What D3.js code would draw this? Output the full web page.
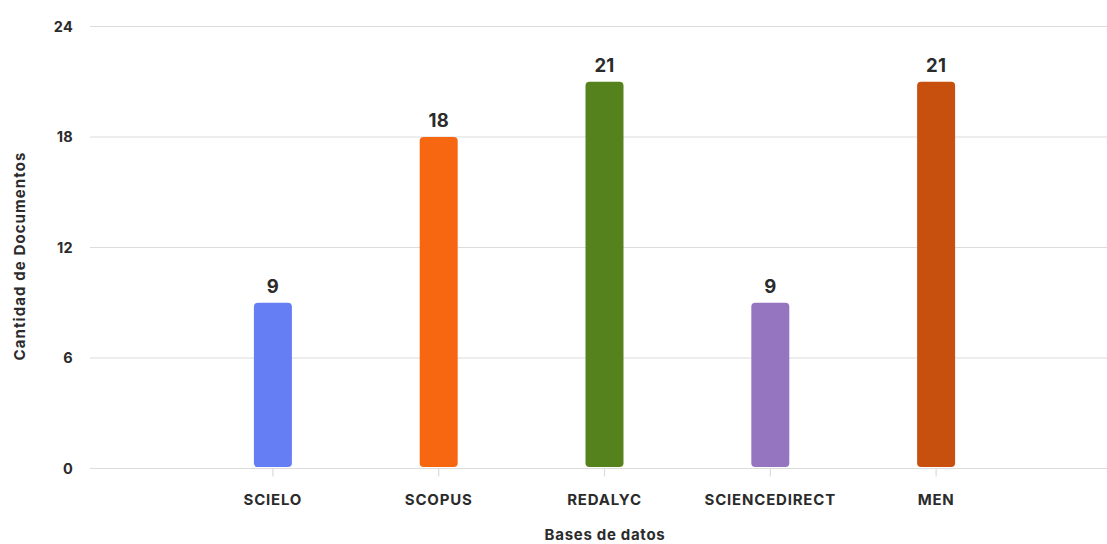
<!DOCTYPE html>
<html><head><meta charset="utf-8">
<script src="https://cdn.jsdelivr.net/npm/d3@7"></script>
<style>body{margin:0;background:#fff}svg{display:block}text{font-family:Inter,"Noto Sans",sans-serif}</style>
</head><body><svg id="c" width="1107" height="544"></svg>
<script>
const categories = ["SCIELO","SCOPUS","REDALYC","SCIENCEDIRECT","MEN"];
const values = [9,18,21,9,21];
const colors = ["#667ef3","#f76711","#56821e","#9575c0","#c8500f"];
const yTicks = [0,6,12,18,24];

const svg = d3.select("#c");
const x = d3.scaleBand().domain(categories).range([190,1019]);
const y = d3.scaleLinear().domain([0,24]).range([468.5,26.5]);
const ink = "#2b2b2b";

// gridlines
svg.append("g").selectAll("line").data(yTicks).join("line")
  .attr("x1",90).attr("x2",1107).attr("y1",d=>y(d)).attr("y2",d=>y(d))
  .attr("stroke","#dcdcdc").attr("stroke-width",1.2);
svg.append("g").selectAll("text").data(yTicks).join("text")
  .attr("x",73).attr("y",d=>y(d)).attr("dy","0.36em").attr("text-anchor","end")
  .attr("font-size",14.5).attr("font-weight",700).attr("letter-spacing",0.3).attr("fill",ink).text(d=>d);

// x ticks
const cx = d=>x(d)+x.bandwidth()/2;
svg.append("g").selectAll("line").data(categories).join("line")
  .attr("x1",cx).attr("x2",cx).attr("y1",y(0)).attr("y2",y(0)+8)
  .attr("stroke","#dcdcdc").attr("stroke-width",1.2);
svg.append("g").selectAll("text").data(categories).join("text")
  .attr("x",cx).attr("y",500).attr("dy","0.36em").attr("text-anchor","middle")
  .attr("font-size",15).attr("font-weight",700).attr("letter-spacing",0.8).attr("fill",ink).text(d=>d);

// bars
const bw = 38;
svg.append("g").selectAll("rect").data(categories).join("rect")
  .attr("x",d=>cx(d)-bw/2).attr("width",bw)
  .attr("y",(d,i)=>y(values[i])).attr("height",(d,i)=>y(0)-1.5-y(values[i]))
  .attr("rx",4).attr("fill",(d,i)=>colors[i]);
svg.append("g").selectAll("text").data(categories).join("text")
  .attr("x",cx).attr("y",(d,i)=>y(values[i])-10).attr("text-anchor","middle")
  .attr("font-size",18.5).attr("font-weight",700).attr("letter-spacing",0.3).attr("fill",ink).text((d,i)=>values[i]);

// titles
svg.append("text").attr("x",605).attr("y",540).attr("text-anchor","middle")
  .attr("font-size",15).attr("font-weight",700).attr("letter-spacing",0.7).attr("fill",ink).text("Bases de datos");
svg.append("text").attr("transform","translate(20,256) rotate(-90)").attr("dy","0.36em").attr("text-anchor","middle")
  .attr("font-size",15).attr("font-weight",700).attr("letter-spacing",1.1).attr("fill",ink).text("Cantidad de Documentos");
</script></body></html>
